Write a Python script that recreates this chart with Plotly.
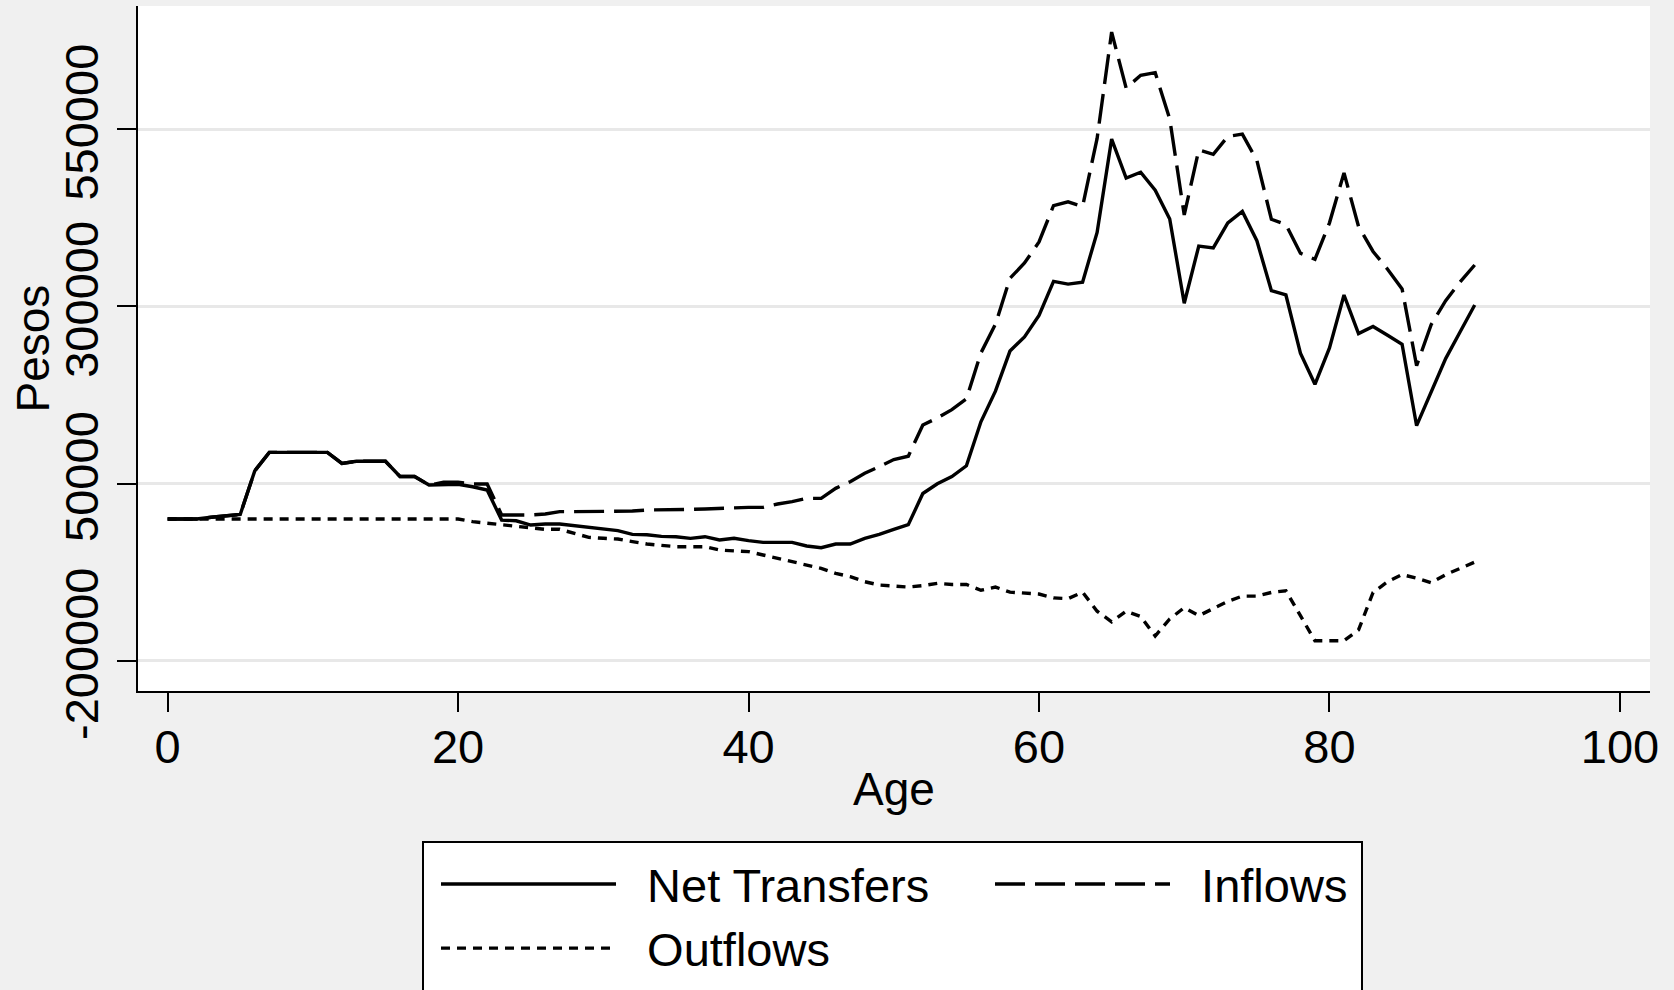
import plotly.graph_objects as go

ages = list(range(0, 91))

net_transfers = [
    0, 0, 0, 2500, 4500, 6500, 68000, 94000, 94000, 94000,
    94000, 94000, 78500, 81500, 81500, 81500, 60000, 60000, 48000, 48000,
    49000, 45500, 41000, -1500, -2500, -8500, -7000, -7000, -9400, -11700,
    -14100, -16400, -21600, -22100, -24400, -24900, -27200, -24900, -29600, -27200,
    -30500, -32900, -32900, -32900, -38000, -40400, -35200, -35200, -27200, -21500,
    -14500, -8000, 36000, 49700, 60000, 75100, 137200, 180400, 237000, 257000,
    287300, 335300, 331500, 334200, 404400, 536000, 481100, 489200, 463800, 423300,
    304500, 385100, 382600, 417900, 434000, 392700, 322100, 316100, 234000, 190100,
    241500, 316100, 261700, 271700, 259200, 246500, 131700, 178500, 226400, 264200,
    302000,
]

inflows = [
    0, 0, 0, 2500, 4500, 6500, 68000, 94000, 94000, 94000,
    94000, 94000, 78500, 81500, 81500, 81500, 60000, 60000, 48000, 51800,
    51800, 49400, 49400, 5700, 5700, 5700, 7100, 10400, 10400, 10400,
    10400, 10400, 11300, 12700, 12700, 12700, 13700, 14200, 15100, 16500,
    16500, 16500, 21200, 24500, 29200, 29200, 43300, 52700, 64500, 74000,
    84000, 88700, 132800, 142600, 154400, 169600, 234300, 274800, 339600, 361200,
    390900, 442200, 447600, 441000, 537000, 687000, 608000, 626000, 629700, 564500,
    429000, 520800, 514600, 539800, 543000, 506000, 422900, 415300, 375000, 366500,
    417900, 488400, 412800, 377500, 352400, 324600, 216300, 274300, 308000, 334700,
    358400,
]

outflows = [
    0, 0, 0, 0, 0, 0, 0, 0, 0, 0,
    0, 0, 0, 0, 0, 0, 0, 0, 0, 0,
    0, -3700, -6100, -8400, -10800, -13100, -14500, -14500, -20200, -25800,
    -27200, -28200, -31900, -35200, -37100, -39000, -39000, -39000, -43700, -44600,
    -46000, -50700, -55400, -59200, -64900, -69600, -76600, -81300, -88400, -93100,
    -94500, -96000, -93900, -90700, -92300, -92300, -100400, -96000, -103100, -104700,
    -105800, -111200, -112300, -103100, -130000, -145000, -130000, -137500, -165000, -141000,
    -125000, -136400, -126300, -116200, -108700, -108700, -103600, -101100, -136400, -171700,
    -171700, -171700, -156500, -103600, -88500, -78400, -83500, -90000, -78400, -69900,
    -60800,
]

series_names = ["Net Transfers", "Inflows", "Outflows"]
y_tick_vals = [-200000, 50000, 300000, 550000]
y_tick_text = ["-200000", "50000", "300000", "550000"]
x_tick_vals = [0, 20, 40, 60, 80, 100]
x_title = "Age"
y_title = "Pesos"

FONT = "Liberation Sans, Arial, sans-serif"
PAD = "\u00a0\u00a0"
LW = 3.4

fig = go.Figure()
fig.add_trace(go.Scatter(x=ages, y=net_transfers, mode="lines", name=PAD + series_names[0],
                         line=dict(color="black", width=LW, dash="solid")))
fig.add_trace(go.Scatter(x=ages, y=inflows, mode="lines", name=PAD + series_names[1],
                         line=dict(color="black", width=LW, dash="30px,10px")))
fig.add_trace(go.Scatter(x=ages, y=outflows, mode="lines", name=PAD + series_names[2],
                         line=dict(color="black", width=LW, dash="9px,7px")))

W, H = 1674, 990
ml, mr, mt, mb = 138, 24, 6, 299
pw, ph = W - ml - mr, H - mt - mb


def px_x(x):
    return (x - ml) / pw


def px_y(y):
    return (H - mb - y) / ph


fig.add_shape(type="rect", xref="paper", yref="paper",
              x0=px_x(423), x1=px_x(1362), y0=px_y(1005), y1=px_y(842),
              line=dict(color="black", width=2), fillcolor="white", layer="above")

fig.add_annotation(text=y_title, xref="paper", yref="paper", x=px_x(32), y=0.5,
                   xanchor="center", yanchor="middle", textangle=-90, showarrow=False,
                   font=dict(family=FONT, size=46, color="black"))

fig.update_layout(
    width=W, height=H,
    margin=dict(l=ml, r=mr, t=mt, b=mb, autoexpand=False),
    paper_bgcolor="#f0f0f0",
    plot_bgcolor="white",
    font=dict(family=FONT, size=46, color="black"),
    showlegend=True,
    legend=dict(orientation="h", x=px_x(436), xanchor="left", y=px_y(847), yanchor="top",
                bgcolor="rgba(0,0,0,0)", borderwidth=0, itemwidth=175,
                entrywidth=364, entrywidthmode="pixels", traceorder="normal",
                font=dict(family=FONT, size=47, color="black")),
    xaxis=dict(range=[-2.04, 102.07], tickvals=x_tick_vals, showgrid=False, zeroline=False,
               showline=True, linecolor="black", linewidth=2, ticks="outside", ticklen=19,
               tickwidth=1.5, tickcolor="black", ticklabelstandoff=-5,
               title=dict(text=x_title, standoff=0, font=dict(size=46)),
               tickfont=dict(size=47)),
    yaxis=dict(range=[-242600, 723800], tickvals=y_tick_vals, ticktext=y_tick_text,
               tickangle=-90, showgrid=True, gridcolor="#e8e8e8", gridwidth=3, zeroline=False,
               showline=True, linecolor="black", linewidth=2, ticks="outside", ticklen=19,
               tickwidth=1.5, tickcolor="black",
               tickfont=dict(size=47)),
)

fig.write_html("out.html", config={"displayModeBar": False},
               post_script="document.body.style.margin='0px';")
